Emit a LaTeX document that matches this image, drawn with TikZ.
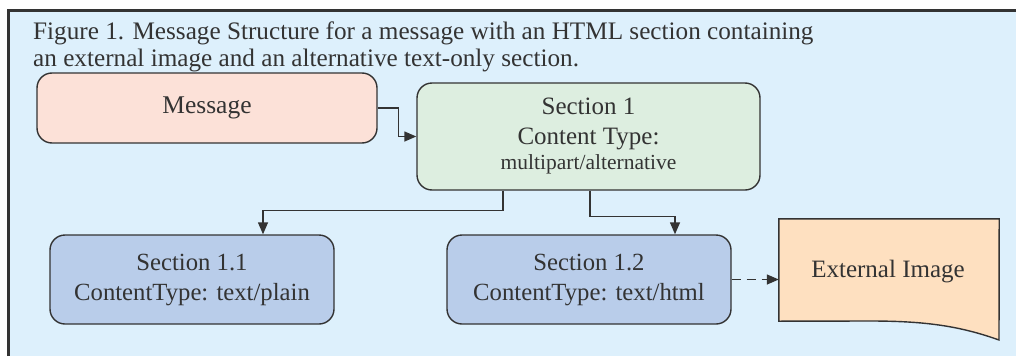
\documentclass[tikz,border=0pt]{standalone}
\usepackage{fontspec}
\setmainfont{Liberation Serif}
\usetikzlibrary{arrows.meta,calc}
\definecolor{bgblue}{HTML}{DDF0FC}
\definecolor{edge}{HTML}{333333}
\definecolor{msgfill}{HTML}{FCE1D8}
\definecolor{secfill}{HTML}{DDEEE0}
\definecolor{subfill}{HTML}{B9CDEA}
\definecolor{extfill}{HTML}{FEE0C0}
\tikzset{
  box/.style={draw=edge, line width=1.4pt, rounded corners=15pt, align=center,
    text=edge, inner sep=0pt},
  arr/.style={draw=edge, line width=1.4pt, -{Triangle[length=12pt,width=10pt]}},
  txt/.style={text=edge, inner sep=0pt},
  captionfont/.style={font=\fontsize{25.2}{29}\selectfont},
  boxfont/.style={font=\fontsize{24.7}{30}\selectfont},
}
\begin{document}
\begin{tikzpicture}[x=1pt,y=-1pt]
\useasboundingbox (0,0) rectangle (1016,356);
\fill[white] (0,0) rectangle (1016,356);
\fill[bgblue] (8.5,10.5) rectangle (1016,356);
\draw[edge, line width=3pt] (8.5,356) -- (8.5,10.5) -- (1016,10.5);

\node[txt, anchor=base west, captionfont] (cap1) at (33,39.5)
  {Figure 1. Message Structure for a message with an HTML section containing};
\node[txt, anchor=base west, captionfont] (cap2) at (33,66)
  {an external image and an alternative text-only section.};

\node[box, fill=msgfill, minimum width=340pt, minimum height=70pt,
  font=\fontsize{25.5}{30}\selectfont] (msg) at (207,108) {Message};

\node[box, fill=secfill, minimum width=343pt, minimum height=107pt,
  font=\fontsize{25}{30}\selectfont] (s1) at (588.5,136.5)
  {Section 1\\Content Type:\\[-5pt]{\fontsize{21.5}{25}\selectfont multipart/alternative}};

\node[box, fill=subfill, minimum width=284pt, minimum height=89pt, boxfont] (s11) at (192,279.5)
  {Section 1.1\\ContentType: text/plain};

\node[box, fill=subfill, minimum width=284pt, minimum height=89pt, boxfont] (s12) at (589,279.5)
  {Section 1.2\\ContentType: text/html};

\node[txt, minimum width=220pt, minimum height=102pt] (ext) at (889,270) {};
\draw[draw=edge, fill=extfill, line width=1.4pt]
  (ext.north west) -- (ext.north east) -- (999,340)
  .. controls (960,326) and (925,321) .. (870,321) -- (ext.south west) -- cycle;
\node[txt, font=\fontsize{25}{30}\selectfont] (extlabel) at (888,272) {External Image};

\draw[arr] (msg.east) -- ++(21,0) |- (s1.west);
\draw[arr] ([xshift=-85.5pt]s1.south) -- ++(0,20) -| ([xshift=71pt]s11.north);
\draw[arr] ([xshift=1.5pt]s1.south) -- ++(0,26) -| ([xshift=86pt]s12.north);
\draw[arr, dashed, dash pattern=on 9pt off 6pt] (s12.east) -- (s12.east -| ext.west);
\end{tikzpicture}
\end{document}
